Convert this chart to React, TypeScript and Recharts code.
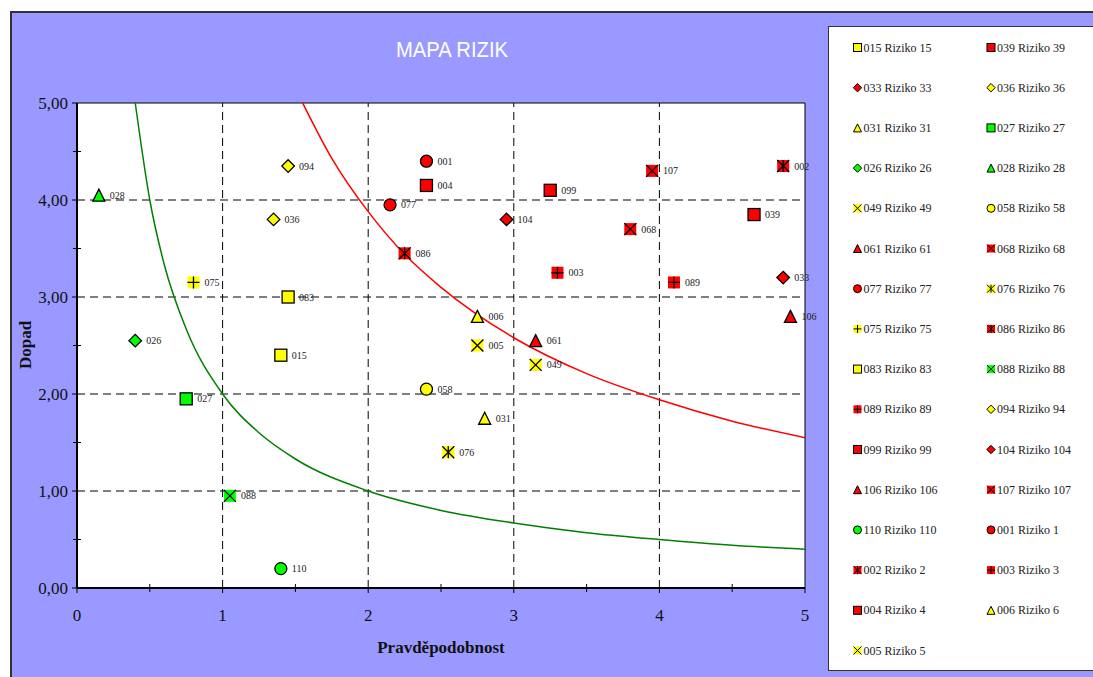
import React from "react";
import {
  ComposedChart,
  Scatter,
  Line,
  XAxis,
  YAxis,
  CartesianGrid,
  ReferenceLine,
} from "recharts";

// rizika v poradi legendy
const riskIds = [
  "015", "039", "033", "036", "031", "027", "026", "028", "049", "058", "061",
  "068", "077", "076", "075", "086", "083", "088", "089", "094", "099", "104",
  "106", "107", "110", "001", "002", "003", "004", "006", "005",
];
const riskProbability = [
  1.4, 4.65, 4.85, 1.35, 2.8, 0.75, 0.4, 0.15, 3.15, 2.4, 3.15,
  3.8, 2.15, 2.55, 0.8, 2.25, 1.45, 1.05, 4.1, 1.45, 3.25, 2.95,
  4.9, 3.95, 1.4, 2.4, 4.85, 3.3, 2.4, 2.75, 2.75,
];
const riskImpact = [
  2.4, 3.85, 3.2, 3.8, 1.75, 1.95, 2.55, 4.05, 2.3, 2.05, 2.55,
  3.7, 3.95, 1.4, 3.15, 3.45, 3.0, 0.95, 3.15, 4.35, 4.1, 3.8,
  2.8, 4.3, 0.2, 4.4, 4.35, 3.25, 4.15, 2.8, 2.5,
];

// hranice pasem
const greenCurveX = [0.4, 0.5, 0.6, 0.75, 1, 1.25, 1.5, 2, 2.5, 3, 3.5, 4, 4.5, 5];
const greenCurveY = [5.0, 4.0, 3.33, 2.67, 2.0, 1.6, 1.33, 1.0, 0.8, 0.67, 0.57, 0.5, 0.44, 0.4];
const redCurveX = [1.55, 1.75, 2, 2.25, 2.5, 3, 3.5, 4, 4.5, 5];
const redCurveY = [5.0, 4.43, 3.88, 3.44, 3.1, 2.58, 2.21, 1.94, 1.72, 1.55];

const axisTicks = [0, 0.5, 1, 1.5, 2, 2.5, 3, 3.5, 4, 4.5, 5];
const gridValues = [1, 2, 3, 4];

// styly markeru
const markerShapes = [
  "square", "square", "diamond", "diamond", "triangle", "square", "diamond", "triangle", "x", "circle", "triangle",
  "x", "circle", "star", "plus", "star", "square", "x", "plus", "diamond", "square", "diamond",
  "triangle", "x", "circle", "circle", "star", "plus", "square", "triangle", "x",
];
const Y = "#ffff00";
const R = "#ff0000";
const G = "#00ff00";
const markerFills = [
  Y, R, R, Y, Y, G, G, G, Y, Y, R,
  R, R, Y, Y, R, Y, G, R, Y, R, R,
  R, R, G, R, R, R, R, Y, Y,
];

const SERIF = "'Liberation Serif', 'Times New Roman', serif";

const toPoints = (xs: number[], ys: number[]) => xs.map((x, i) => ({ x, y: ys[i] }));
const greenCurve = toPoints(greenCurveX, greenCurveY);
const redCurve = toPoints(redCurveX, redCurveY);

function Marker({ shape, fill, cx, cy, s }: { shape: string; fill: string; cx: number; cy: number; s: number }) {
  const sw = s > 5 ? 1.3 : 1;
  const box = <rect x={cx - s} y={cy - s} width={2 * s} height={2 * s} fill={fill} />;
  const cross = `M${cx - s} ${cy - s}L${cx + s} ${cy + s}M${cx + s} ${cy - s}L${cx - s} ${cy + s}`;
  switch (shape) {
    case "square":
      return <rect x={cx - s} y={cy - s} width={2 * s} height={2 * s} fill={fill} stroke="#000" strokeWidth={sw} />;
    case "circle":
      return <circle cx={cx} cy={cy} r={s} fill={fill} stroke="#000" strokeWidth={sw} />;
    case "diamond": {
      const d = s * 1.05;
      return (
        <polygon
          points={`${cx},${cy - d} ${cx + d},${cy} ${cx},${cy + d} ${cx - d},${cy}`}
          fill={fill}
          stroke="#000"
          strokeWidth={sw}
        />
      );
    }
    case "triangle":
      return (
        <polygon
          points={`${cx},${cy - s} ${cx + s},${cy + s} ${cx - s},${cy + s}`}
          fill={fill}
          stroke="#000"
          strokeWidth={sw}
        />
      );
    case "x":
      return (
        <g>
          {box}
          <path d={cross} stroke="#000" strokeWidth={sw} />
        </g>
      );
    case "plus":
      return (
        <g>
          {box}
          <path d={`M${cx - s} ${cy}L${cx + s} ${cy}M${cx} ${cy - s}L${cx} ${cy + s}`} stroke="#000" strokeWidth={sw} />
        </g>
      );
    default:
      return (
        <g>
          {box}
          <path d={`${cross}M${cx} ${cy - s}L${cx} ${cy + s}`} stroke="#000" strokeWidth={sw} />
        </g>
      );
  }
}

const fmtY = (v: number) => v.toFixed(2).replace(".", ",");

function YTick({ x, y, payload }: any) {
  const v = payload.value;
  const major = Number.isInteger(v);
  return (
    <g>
      {major ? (
        <line x1={x - 5} x2={x} y1={y} y2={y} stroke="#000" />
      ) : (
        <line x1={x - 4} x2={x + 4} y1={y} y2={y} stroke="#000" />
      )}
      {major && (
        <text x={x - 9} y={y} dy={6} textAnchor="end" fontSize={17} fontFamily={SERIF} fill="#111">
          {fmtY(v)}
        </text>
      )}
    </g>
  );
}

function XTick({ x, y, payload }: any) {
  const v = payload.value;
  const major = Number.isInteger(v);
  return (
    <g>
      {major ? (
        <line x1={x} x2={x} y1={y} y2={y + 5} stroke="#000" />
      ) : (
        <line x1={x} x2={x} y1={y - 4} y2={y + 4} stroke="#000" />
      )}
      {major && (
        <text x={x} y={y + 33} textAnchor="middle" fontSize={17} fontFamily={SERIF} fill="#111">
          {v}
        </text>
      )}
    </g>
  );
}

function Legendbox() {
  return (
    <div
      style={{
        position: "absolute",
        left: 828,
        top: 26,
        width: 300,
        height: 643,
        background: "#fff",
        border: "1.5px solid #333",
      }}
    >
      <svg width={300} height={643}>
        {riskIds.map((id, i) => {
          const col = i % 2;
          const row = Math.floor(i / 2);
          const cx = 28.5 + col * 133.5;
          const cy = 20.5 + row * 40.2;
          return (
            <g key={id}>
              <Marker shape={markerShapes[i]} fill={markerFills[i]} cx={cx} cy={cy} s={4} />
              <text x={cx + 6} y={cy + 4} fontSize={12} fontFamily={SERIF} fill="#222">
                {`${id} Riziko ${Number(id)}`}
              </text>
            </g>
          );
        })}
      </svg>
    </div>
  );
}

export default function App() {
  return (
    <div style={{ position: "absolute", left: 0, top: 0, width: 1093, height: 677, overflow: "hidden", background: "#fff" }}>
      <div
        style={{
          position: "absolute",
          left: 10,
          top: 11,
          width: 1100,
          height: 700,
          background: "#9999ff",
          borderLeft: "2px solid #333",
          borderTop: "2px solid #333",
        }}
      />
      <Legendbox />
      <div style={{ position: "absolute", left: 0, top: 0 }}>
        <ComposedChart width={1093} height={677} margin={{ top: 103, right: 288, bottom: 59, left: 17 }}>
          <CartesianGrid fill="#fff" horizontal={false} vertical={false} />
          <XAxis
            type="number"
            dataKey="x"
            domain={[0, 5]}
            ticks={axisTicks}
            interval={0}
            height={30}
            tickSize={0}
            tickMargin={0}
            tickLine={false}
            tick={<XTick />}
            axisLine={{ stroke: "#000", strokeWidth: 2 }}
          />
          <YAxis
            type="number"
            dataKey="y"
            domain={[0, 5]}
            ticks={axisTicks}
            interval={0}
            width={60}
            tickSize={0}
            tickMargin={0}
            tickLine={false}
            tick={<YTick />}
            axisLine={{ stroke: "#000", strokeWidth: 2 }}
          />
          {gridValues.map((v) => (
            <ReferenceLine key={`gx${v}`} x={v} stroke="#000" strokeDasharray="8 5" />
          ))}
          {gridValues.map((v) => (
            <ReferenceLine key={`gy${v}`} y={v} stroke="#000" strokeDasharray="8 5" />
          ))}
          <ReferenceLine y={5} stroke="#000" />
          <ReferenceLine x={5} stroke="#000" />
          <Line
            data={greenCurve}
            dataKey="y"
            type="monotone"
            stroke="#008000"
            strokeWidth={1.5}
            dot={false}
            activeDot={false}
            isAnimationActive={false}
          />
          <Line
            data={redCurve}
            dataKey="y"
            type="monotone"
            stroke="#ff0000"
            strokeWidth={1.5}
            dot={false}
            activeDot={false}
            isAnimationActive={false}
          />
          {riskIds.map((id, i) => (
            <Scatter
              key={id}
              name={`${id} Riziko ${Number(id)}`}
              data={[{ x: riskProbability[i], y: riskImpact[i] }]}
              dataKey="y"
              isAnimationActive={false}
              shape={(p: any) => (
                <g>
                  <Marker shape={markerShapes[i]} fill={markerFills[i]} cx={p.cx} cy={p.cy} s={6} />
                  <text x={p.cx + 11} y={p.cy} dy={3.5} fontSize={10} fontFamily={SERIF} fill="#222">
                    {id}
                  </text>
                </g>
              )}
            />
          ))}
        </ComposedChart>
      </div>
      <svg width={1093} height={677} style={{ position: "absolute", left: 0, top: 0, pointerEvents: "none" }}>
        <text
          x={396}
          y={57}
          fontSize={22}
          fontFamily="'Liberation Sans Narrow', 'Arial Narrow', 'Liberation Sans', Arial, sans-serif"
          fill="#fff"
          textLength={112}
          lengthAdjust="spacingAndGlyphs"
        >
          MAPA RIZIK
        </text>
        <text
          x={441}
          y={653}
          textAnchor="middle"
          fontSize={17}
          fontWeight="bold"
          fontFamily={SERIF}
          fill="#111"
        >
          Pravděpodobnost
        </text>
        <text
          transform="translate(31,345) rotate(-90)"
          textAnchor="middle"
          fontSize={17}
          fontWeight="bold"
          fontFamily={SERIF}
          fill="#111"
        >
          Dopad
        </text>
      </svg>
    </div>
  );
}
